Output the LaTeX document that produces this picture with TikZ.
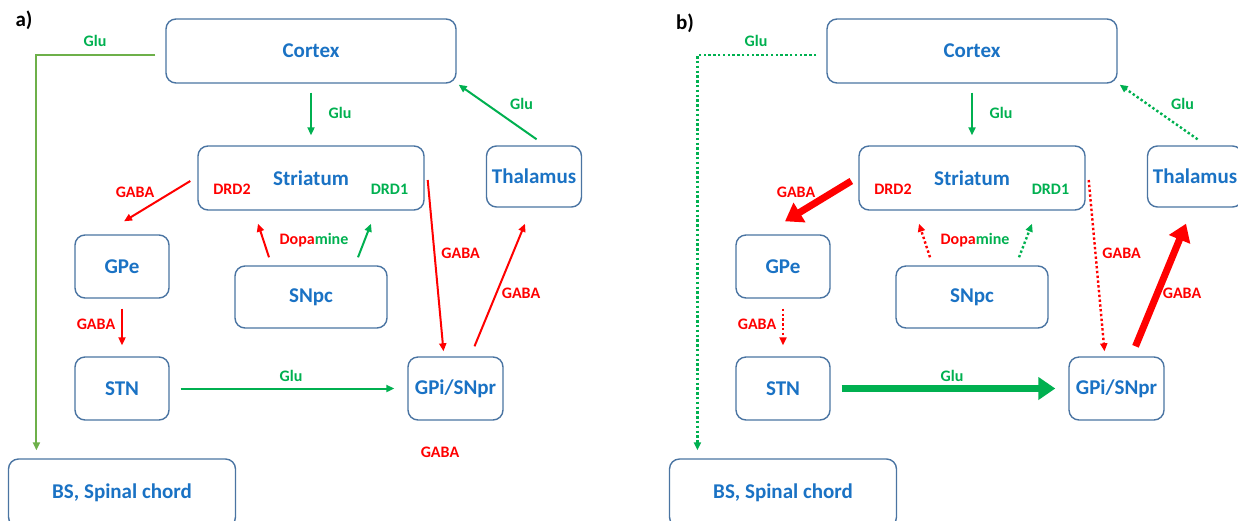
\documentclass[tikz,border=0pt]{standalone}
\usepackage{fontspec}
\setmainfont{Carlito}
\usetikzlibrary{arrows.meta,calc}
\definecolor{boxc}{HTML}{4A74A2}
\definecolor{txtc}{HTML}{1A72C4}
\definecolor{grn}{HTML}{00B050}
\definecolor{olv}{HTML}{6DB04A}
\definecolor{rd}{HTML}{FF0000}
\tikzset{
  box/.style={draw=boxc, line width=1.4pt, rounded corners=10pt, text=txtc,
    font=\bfseries\fontsize{21}{25}\selectfont, inner sep=0pt},
  lbl/.style={font=\bfseries\fontsize{16}{19}\selectfont, inner sep=0pt},
  panellbl/.style={font=\bfseries\fontsize{21}{25}\selectfont, inner sep=0pt, text=black},
  thinarr/.style={line width=2pt, -{Triangle[length=8pt,width=7pt]}},
  dotarr/.style={line width=2.4pt, dash pattern=on 2.4pt off 2.4pt, -{Triangle[length=8pt,width=7pt]}},
  thickarr/.style={line width=7pt, -{Triangle[length=17pt,width=22pt]}},
}
\newcommand\panelboxes{%
  \node[box, minimum width=290pt, minimum height=64pt] (cortex) at (311,51) {Cortex};
  \node[box, minimum width=226pt, minimum height=64pt] (striatum) at (311,178) {Striatum};
  \node[box, minimum width=95pt, minimum height=61pt] (thal) at (534,176.5) {Thalamus};
  \node[box, minimum width=94pt, minimum height=63pt] (gpe) at (122,266.5) {GPe};
  \node[box, minimum width=152pt, minimum height=62pt] (snpc) at (311,297) {SNpc};
  \node[box, minimum width=94pt, minimum height=63pt] (stn) at (122,388.5) {STN};
  \node[box, minimum width=95pt, minimum height=63pt] (gpi) at (455.5,388.5) {GPi/SNpr};
  \node[box, minimum width=227pt, minimum height=68pt] (bs) at (122,493) {BS, Spinal chord};
  \node[lbl, text=rd] (drd2) at (232,189) {DRD2};
  \node[lbl, text=grn] (drd1) at (389.5,189) {DRD1};
  \node[lbl, text=grn] (gluBS) at (95,41) {Glu};
  \node[lbl, text=grn] (gluCS) at (340,113) {Glu};
  \node[lbl, text=grn] (gluTC) at (521.5,104) {Glu};
  \node[lbl, text=rd] (gabaSG) at (135,192) {GABA};
  \node[lbl] (dopa) at (314,240) {\textcolor{rd}{Dopa}\textcolor{grn}{mine}};
  \node[lbl, text=rd] (gabaSP) at (460.6,253) {GABA};
  \node[lbl, text=rd] (gabaPT) at (521,293) {GABA};
  \node[lbl, text=rd] (gabaGS) at (96,324) {GABA};
  \node[lbl, text=grn] (gluSP) at (291,376) {Glu};
}
\begin{document}
\begin{tikzpicture}[x=1pt,y=-1pt]
\useasboundingbox (0,0) rectangle (1238,520);
% ---------- panel a ----------
\begin{scope}[name prefix=a-]
  \panelboxes
  \node[panellbl] (plbl) at (24,20) {a)};
  \node[lbl, text=rd] (gabaB) at (440,452) {GABA};
  \draw[thinarr, grn] ($(cortex.south)+(0,9)$) -- ($(striatum.north)+(0,-10)$);
  \draw[thinarr, grn] ($(thal.north)+(2.6,-6)$) -- ($(cortex.south east)+(2,1)$);
  \draw[thinarr, rd] ($(striatum.west)+(-7,3)$) -- ($(gpe.north)+(2,-13)$);
  \draw[thinarr, rd] ($(snpc.north)+(-42,-8)$) -- ($(striatum.south)+(-53,13)$);
  \draw[thinarr, grn] ($(snpc.north)+(47,-8)$) -- ($(striatum.south)+(60,13)$);
  \draw[thinarr, rd] ($(striatum.east)+(3,2)$) -- ($(gpi.north)+(-12,-5)$);
  \draw[thinarr, rd] ($(gpi.north)+(19,-10)$) -- ($(thal.south)+(-9,16)$);
  \draw[thinarr, rd] ($(gpe.south)+(0,10)$) -- ($(stn.north)+(0,-11)$);
  \draw[thinarr, grn] ($(stn.east)+(11,0)$) -- ($(gpi.west)+(-13,0)$);
  \draw[thinarr, olv] ($(cortex.west)+(-10,4)$) -| ($(bs.north)+(-85.6,-8)$);
\end{scope}
% ---------- panel b ----------
\begin{scope}[xshift=661pt, name prefix=b-]
  \panelboxes
  \node[panellbl] (plbl) at (24,23) {b)};
  \draw[thinarr, grn] ($(cortex.south)+(0,9)$) -- ($(striatum.north)+(0,-10)$);
  \draw[dotarr, grn] ($(thal.north)+(2.6,-6)$) -- ($(cortex.south east)+(2,1)$);
  \draw[thickarr, rd] ($(striatum.west)+(-7,3)$) -- ($(gpe.north)+(2,-13)$);
  \draw[dotarr, rd] ($(snpc.north)+(-42,-8)$) -- ($(striatum.south)+(-53,13)$);
  \draw[dotarr, grn] ($(snpc.north)+(47,-8)$) -- ($(striatum.south)+(60,13)$);
  \draw[dotarr, rd] ($(striatum.east)+(3,2)$) -- ($(gpi.north)+(-12,-5)$);
  \draw[thickarr, rd] ($(gpi.north)+(19,-10)$) -- ($(thal.south)+(-9,16)$);
  \draw[dotarr, rd] ($(gpe.south)+(0,10)$) -- ($(stn.north)+(0,-11)$);
  \draw[thickarr, grn] ($(stn.east)+(11,0)$) -- ($(gpi.west)+(-13,0)$);
  \draw[dotarr, grn] ($(cortex.west)+(-10,4)$) -| ($(bs.north)+(-85.6,-8)$);
\end{scope}
\end{tikzpicture}
\end{document}
